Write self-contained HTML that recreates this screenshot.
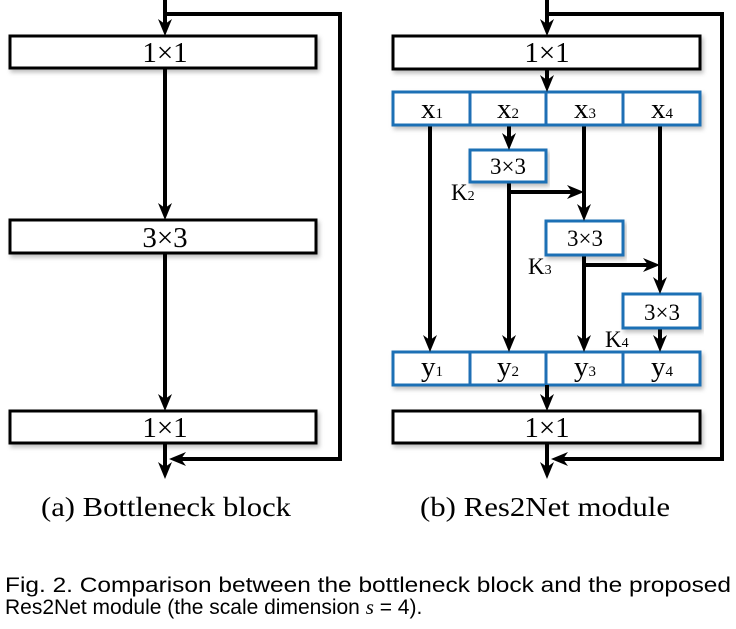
<!DOCTYPE html>
<html><head><meta charset="utf-8"><style>
html,body{margin:0;padding:0;background:#fff;width:736px;height:629px;overflow:hidden}
</style></head><body>
<svg width="736" height="629" viewBox="0 0 736 629" xmlns="http://www.w3.org/2000/svg">
<defs>
<filter id="sh" x="-5%" y="-20%" width="110%" height="160%"><feDropShadow dx="2" dy="3" stdDeviation="2" flood-color="#000" flood-opacity="0.25"/></filter>
</defs>
<g fill="none" stroke="#000" stroke-width="4">
<!-- Left -->
<line x1="165" y1="0" x2="165" y2="28"/>
<polyline points="167,14 340,14 340,459 178,459"/>
<rect x="10" y="36" width="306" height="32" fill="#fff" stroke-width="3" filter="url(#sh)"/>
<line x1="165" y1="68" x2="165" y2="210"/>
<rect x="10" y="220" width="306" height="33" fill="#fff" stroke-width="3" filter="url(#sh)"/>
<line x1="165" y1="253" x2="165" y2="402"/>
<rect x="10" y="411" width="306" height="32" fill="#fff" stroke-width="3" filter="url(#sh)"/>
<line x1="165" y1="443" x2="165" y2="470"/>
<!-- Right -->
<line x1="547" y1="0" x2="547" y2="28"/>
<polyline points="549,14 722,14 722,459 560,459"/>
<rect x="393" y="36" width="307" height="33" fill="#fff" stroke-width="3" filter="url(#sh)"/>
<line x1="547" y1="69" x2="547" y2="84"/>
<line x1="430" y1="125" x2="430" y2="344"/>
<line x1="509" y1="125" x2="509" y2="142"/>
<line x1="509" y1="182" x2="509" y2="344"/>
<line x1="509" y1="192" x2="575" y2="192"/>
<line x1="584" y1="125" x2="584" y2="213"/>
<line x1="584" y1="255" x2="584" y2="344"/>
<line x1="584" y1="265" x2="651" y2="265"/>
<line x1="660" y1="125" x2="660" y2="286"/>
<line x1="660" y1="328" x2="660" y2="344"/>
<g stroke="#1f6fb5" stroke-width="3" fill="#fff">
<rect x="393" y="92" width="307" height="33" filter="url(#sh)"/>
<line x1="470" y1="92" x2="470" y2="125"/><line x1="546" y1="92" x2="546" y2="125"/><line x1="623" y1="92" x2="623" y2="125"/>
<rect x="470" y="150" width="76" height="32" filter="url(#sh)"/>
<rect x="546" y="221" width="77" height="34" filter="url(#sh)"/>
<rect x="623" y="294" width="77" height="34" filter="url(#sh)"/>
<rect x="393" y="352" width="307" height="33" filter="url(#sh)"/>
<line x1="470" y1="352" x2="470" y2="385"/><line x1="546" y1="352" x2="546" y2="385"/><line x1="623" y1="352" x2="623" y2="385"/>
</g>
<line x1="547" y1="385" x2="547" y2="403"/>
<rect x="393" y="411" width="307" height="32" fill="#fff" stroke-width="3" filter="url(#sh)"/>
<line x1="547" y1="443" x2="547" y2="470"/>
</g>
<!-- arrowheads -->
<g fill="#000" stroke="none">
<polygon points="158,19 165,36 172,19 165,24"/>
<polygon points="158,203 165,220 172,203 165,208"/>
<polygon points="158,394 165,411 172,394 165,399"/>
<polygon points="158,462 165,479 172,462 165,467"/>
<polygon points="186,452 169,459 186,466 181,459"/>
<polygon points="540,19 547,36 554,19 547,24"/>
<polygon points="540,75 547,92 554,75 547,80"/>
<polygon points="423,335 430,352 437,335 430,340"/>
<polygon points="502,133 509,150 516,133 509,138"/>
<polygon points="502,335 509,352 516,335 509,340"/>
<polygon points="567,185 584,192 567,199 572,192"/>
<polygon points="577,204 584,221 591,204 584,209"/>
<polygon points="577,335 584,352 591,335 584,340"/>
<polygon points="643,258 660,265 643,272 648,265"/>
<polygon points="653,277 660,294 667,277 660,282"/>
<polygon points="653,335 660,352 667,335 660,340"/>
<polygon points="540,394 547,411 554,394 547,399"/>
<polygon points="540,462 547,479 554,462 547,467"/>
<polygon points="568,452 551,459 568,466 563,459"/>
</g>
<g font-family="Liberation Serif, serif" fill="#000" text-anchor="middle" font-size="29">
<text x="165" y="62">1×1</text><text x="165" y="247">3×3</text><text x="165" y="437">1×1</text>
<text x="547" y="62">1×1</text><text x="547" y="437">1×1</text>
<g font-size="23">
<text x="508" y="174">3×3</text><text x="585" y="246">3×3</text><text x="662" y="320">3×3</text>
</g>
<g font-size="29">
<text x="432" y="118">x<tspan font-size="15">1</tspan></text>
<text x="508" y="118">x<tspan font-size="15">2</tspan></text>
<text x="585" y="118">x<tspan font-size="15">3</tspan></text>
<text x="662" y="118">x<tspan font-size="15">4</tspan></text>
<text x="432" y="376">y<tspan font-size="15">1</tspan></text>
<text x="508" y="376">y<tspan font-size="15">2</tspan></text>
<text x="585" y="376">y<tspan font-size="15">3</tspan></text>
<text x="662" y="376">y<tspan font-size="15">4</tspan></text>
</g>
<g font-size="23" text-anchor="start">
<text x="451" y="200">K<tspan font-size="14">2</tspan></text>
<text x="528" y="274">K<tspan font-size="14">3</tspan></text>
<text x="605" y="347">K<tspan font-size="14">4</tspan></text>
</g>
<text x="166" y="516" font-size="27" textLength="250" lengthAdjust="spacingAndGlyphs">(a) Bottleneck block</text>
<text x="545" y="516" font-size="27" textLength="250" lengthAdjust="spacingAndGlyphs">(b) Res2Net module</text>
</g>
<g font-family="Liberation Sans, sans-serif" font-size="21" fill="#000">
<text x="5" y="592" textLength="726" lengthAdjust="spacingAndGlyphs">Fig. 2. Comparison between the bottleneck block and the proposed</text>
<text x="5" y="614">Res2Net module (the scale dimension <tspan font-family="Liberation Serif, serif" font-style="italic">s</tspan> = 4).</text>
</g>
</svg>
</body></html>
